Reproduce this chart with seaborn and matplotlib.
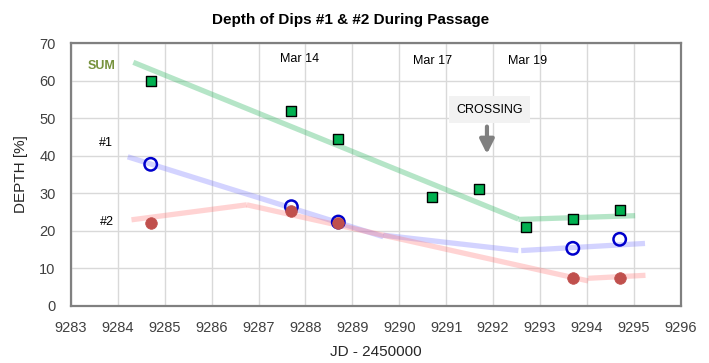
import matplotlib
matplotlib.use("Agg")
import matplotlib.pyplot as plt
import seaborn as sns
import pandas as pd

# ---- data ----
jd_sum = [9284.7, 9287.7, 9288.7, 9290.7, 9291.7, 9292.7, 9293.7, 9294.7]
depth_sum = [60.0, 52.0, 44.5, 29.0, 31.0, 21.0, 23.0, 25.5]
jd_dip = [9284.7, 9287.7, 9288.7, 9293.7, 9294.7]
depth_d1 = [37.7, 26.4, 22.3, 15.3, 17.7]
depth_d2 = [22.0, 25.3, 22.1, 7.3, 7.3]

# trend segments (start jd, start depth, end jd, end depth)
trend_sum = [(9284.33, 64.9, 9292.54, 23.1), (9292.54, 23.0, 9295.03, 24.0)]
trend_d1 = [(9284.21, 39.7, 9289.66, 18.4), (9289.66, 18.8, 9292.54, 14.7),
            (9292.60, 14.7, 9295.24, 16.6)]
trend_d2 = [(9284.29, 22.9, 9286.75, 26.9), (9286.75, 26.9, 9294.03, 6.6),
            (9294.03, 7.3, 9295.25, 8.1)]

date_labels = ["Mar 14", "Mar 17", "Mar 19"]
date_pos = [(9287.87, 65.8), (9290.71, 65.3), (9292.73, 65.3)]
xticks = list(range(9283, 9297))
yticks = list(range(0, 71, 10))

sns.set_theme(style="white")
plt.rcParams['font.family'] = ['Liberation Sans', 'DejaVu Sans']

fig = plt.figure(figsize=(7.09, 3.63), dpi=100)
ax = fig.add_axes([0.1001, 0.1579, 0.8599, 0.7231])

def draw_trend(segs, color, alpha):
    for (x0, y0, x1, y1) in segs:
        df = pd.DataFrame({"x": [x0, x1], "y": [y0, y1]})
        sns.lineplot(data=df, x="x", y="y", ax=ax, color=color, alpha=alpha,
                     lw=3.8, sort=False, solid_capstyle="butt", zorder=3)

draw_trend(trend_sum, "#33b866", 0.36)
draw_trend(trend_d1, "#7070ff", 0.30)
draw_trend(trend_d2, "#ff7070", 0.30)

df_sum = pd.DataFrame({"jd": jd_sum, "depth": depth_sum})
df_d = pd.DataFrame({"jd": jd_dip, "d1": depth_d1, "d2": depth_d2})

sns.scatterplot(data=df_sum, x="jd", y="depth", ax=ax, marker="s", s=58,
                color="#00b050", edgecolor="black", linewidth=1.0, zorder=5)
sns.scatterplot(data=df_d, x="jd", y="d1", ax=ax, marker="o", s=80,
                facecolor="none", edgecolor="#0000cc", linewidth=1.8, zorder=5)
sns.scatterplot(data=df_d, x="jd", y="d2", ax=ax, marker="o", s=70,
                color="#c0504d", edgecolor="#c0504d", linewidth=0.5, zorder=6)

ax.set_xlim(9283, 9296)
ax.set_ylim(0, 70)
ax.set_xticks(xticks)
ax.set_yticks(yticks)
ax.set_xticklabels([str(t) for t in xticks])
ax.set_yticklabels([str(t) for t in yticks])
ax.tick_params(axis="both", length=0, labelsize=10.5, colors="#404040")
ax.tick_params(axis="x", pad=11)
ax.tick_params(axis="y", pad=11)
ax.grid(True, color="#d9d9d9", lw=1.0)
ax.set_axisbelow(True)
for sp in ax.spines.values():
    sp.set_color("#808080")
    sp.set_linewidth(1.6)

ax.set_xlabel("JD - 2450000", fontsize=11, color="#262626", labelpad=7)
ax.set_ylabel("DEPTH [%]", fontsize=11, color="#262626", labelpad=8)
fig.text(0.494, 0.945, "Depth of Dips #1 & #2 During Passage", ha="center",
         va="center", fontsize=11, fontweight="bold", color="black")

ax.text(9283.65, 63.9, "SUM", fontsize=9, fontweight="bold", color="#76923c",
        ha="center", va="center")
ax.text(9283.74, 43.3, "#1", fontsize=9, color="black", ha="center", va="center")
ax.text(9283.77, 22.4, "#2", fontsize=9, color="black", ha="center", va="center")
for lab, (x, y) in zip(date_labels, date_pos):
    ax.text(x, y, lab, fontsize=9, color="black", ha="center", va="center")

ax.text(9291.92, 52.2, "CROSSING", fontsize=9, color="black", ha="center",
        va="center", zorder=7,
        bbox=dict(boxstyle="square,pad=0.6", fc="#f2f2f2", ec="none"))
ax.annotate("", xy=(9291.87, 39.7), xytext=(9291.87, 48.5),
            arrowprops=dict(arrowstyle="-|>,head_width=0.35,head_length=0.7",
                            color="#808080", lw=3), zorder=7)

fig.savefig("out.png", dpi=100)
